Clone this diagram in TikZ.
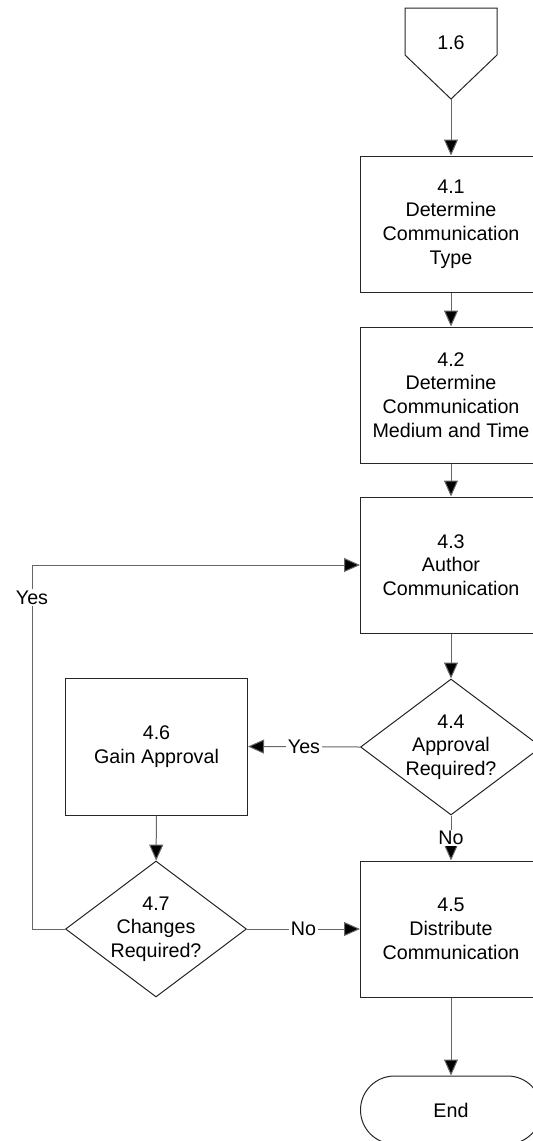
\documentclass[tikz,border=0pt]{standalone}
\usepackage{fontspec}
\setmainfont{Liberation Sans}
\usetikzlibrary{arrows.meta,shapes.geometric}

\begin{document}
\begin{tikzpicture}[x=0.5pt, y=-0.5pt,
	every node/.style={font=\fontsize{9.85}{11.85}\selectfont},
	proc/.style={draw=black!85, line width=0.5pt, rectangle, align=center, inner sep=0pt,
		minimum width=90.5pt, minimum height=68pt},
	decide/.style={draw=black!85, line width=0.5pt, diamond, aspect=1.33, align=center, inner sep=0pt,
		minimum width=90.5pt, minimum height=68pt},
	term/.style={draw=black!85, line width=0.5pt, rectangle, rounded corners=17pt, align=center,
		minimum width=90.5pt, minimum height=34pt},
	flow/.style={draw=black!60, line width=0.5pt, -{Triangle[length=8pt, width=7pt, fill=black]}},
	lbl/.style={fill=white, inner sep=0.8pt}]
			%%%%% START %%%%%
			
			\path[use as bounding box, clip] (0, 0) rectangle (533, 1141);
			
			% off-page connector
			\draw[draw=black!85, line width=0.5pt] (405, 8) -- (497, 8) -- (497, 55) -- (451, 99) -- (405, 55) -- cycle;
			\node (c16) at (451, 43) {1.6};
			\coordinate (c16tip) at (451, 99);
			
			\node[proc] (b41) at (451, 224) {4.1\\Determine\\Communication\\Type};
			\node[proc] (b42) at (451, 395) {4.2\\Determine\\Communication\\Medium and Time};
			\node[proc] (b43) at (451, 565) {4.3\\Author\\Communication};
			\node[decide] (d44) at (451, 747) {4.4\\Approval\\Required?};
			\node[proc] (b45) at (451, 929) {4.5\\Distribute\\Communication};
			\node[proc, minimum width=91pt, minimum height=68.5pt] (b46) at (156.5, 746.5) {4.6\\Gain Approval};
			\node[decide] (d47) at (156, 929) {4.7\\Changes\\Required?};
			\node[term] (end) at (451, 1110) {End};
			
			\coordinate (loop) at (32, 565);
			
			\draw[flow] (c16tip) -- (b41.north);
			\draw[flow] (b41) -- (b42);
			\draw[flow] (b42) -- (b43);
			\draw[flow] (b43) -- (d44);
			\draw[flow] (d44.west) -- node[lbl] {Yes} (b46.east);
			\draw[flow] (d44.south) -- node[lbl] {No} (b45.north);
			\draw[flow] (b46) -- (d47);
			\draw[flow] (d47.east) -- node[lbl] {No} (b45.west);
			\draw[flow] (d47.west) -| node[lbl, pos=0.955] {Yes} (loop) -- (b43.west);
			\draw[flow] (b45) -- (end);
			
			%%%%% END %%%%%
\end{tikzpicture}
\end{document}
